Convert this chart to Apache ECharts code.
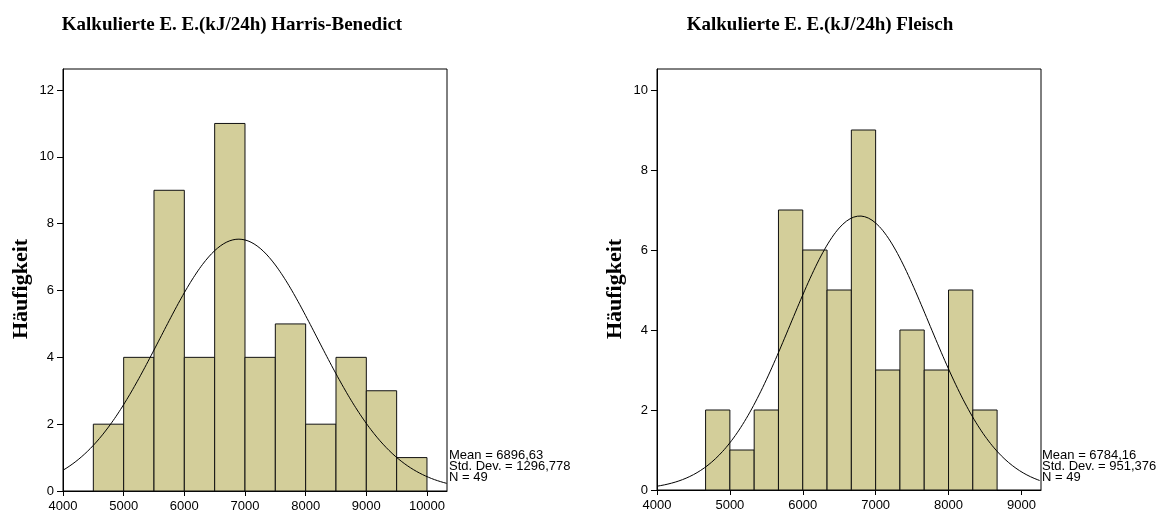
<!DOCTYPE html>
<html>
<head>
<meta charset="utf-8">
<script src="https://cdn.jsdelivr.net/npm/echarts@6/dist/echarts.min.js"></script>
<style>
html,body{margin:0;padding:0;background:#fff;}
#chart{width:1163px;height:516px;}
</style>
</head>
<body>
<div id="chart"></div>
<script>
// ---- Data ----
const titles = ['Kalkulierte E. E.(kJ/24h) Harris-Benedict', 'Kalkulierte E. E.(kJ/24h) Fleisch'];
const yAxisName = 'Häufigkeit';

// Left: Harris-Benedict
const hbBinStarts = [4500, 5000, 5500, 6000, 6500, 7000, 7500, 8000, 8500, 9000, 9500];
const hbBinWidth = 500;
const hbCounts = [2, 4, 9, 4, 11, 4, 5, 2, 4, 3, 1];
const hbMean = 6896.63;
const hbSD = 1296.778;
const hbN = 49;
const hbXTicks = [4000, 5000, 6000, 7000, 8000, 9000, 10000];
const hbYTicks = [0, 2, 4, 6, 8, 10, 12];

// Right: Fleisch
const flBinStarts = [4666.67, 5000, 5333.33, 5666.67, 6000, 6333.33, 6666.67, 7000, 7333.33, 7666.67, 8000, 8333.33];
const flBinWidth = 333.33;
const flCounts = [2, 1, 2, 7, 6, 5, 9, 3, 4, 3, 5, 2];
const flMean = 6784.16;
const flSD = 951.376;
const flN = 49;
const flXTicks = [4000, 5000, 6000, 7000, 8000, 9000];
const flYTicks = [0, 2, 4, 6, 8, 10];

// ---- Helpers ----
function binData(starts, width, counts) {
  return starts.map((s, i) => [s, s + width, counts[i]]);
}
// Fitted normal curve (as drawn by the stats package): N * binWidth * pdf(x)
function normalCurve(mean, sd, n, width, x0, x1, step) {
  const pts = [];
  const k = n * width / (sd * Math.sqrt(2 * Math.PI));
  for (let x = x0; x <= x1 + 1e-9; x += step) {
    const z = (x - mean) / sd;
    pts.push([x, k * Math.exp(-0.5 * z * z)]);
  }
  return pts;
}
function fmt(v, d) { return v.toFixed(d).replace('.', ','); }

const serif = "'Liberation Serif', 'Times New Roman', serif";
const sans = "'Liberation Sans', Arial, sans-serif";
const barColor = '#d3ce9a';

function renderBar(params, api) {
  const p0 = api.coord([api.value(0), api.value(2)]);
  const p1 = api.coord([api.value(1), 0]);
  return {
    type: 'rect',
    shape: { x: p0[0], y: p0[1], width: p1[0] - p0[0], height: p1[1] - p0[1] },
    style: { fill: barColor, stroke: '#111', lineWidth: 1 }
  };
}

function xAxis(gridIndex, min, max, ticks) {
  return {
    type: 'value', gridIndex, min, max, interval: 1000,
    axisLine: { show: true, onZero: false, lineStyle: { color: '#000', width: 1 } },
    axisTick: { show: true, length: 5, lineStyle: { color: '#000' }, customValues: ticks },
    axisLabel: { color: '#000', fontFamily: sans, fontSize: 13, margin: 9,
      customValues: ticks, formatter: v => String(v) },
    splitLine: { show: false }
  };
}
function yAxis(gridIndex, max, ticks) {
  return {
    type: 'value', gridIndex, min: 0, max, interval: 2,
    axisLine: { show: true, onZero: false, lineStyle: { color: '#000', width: 1 } },
    axisTick: { show: true, length: 6, lineStyle: { color: '#000' }, customValues: ticks },
    axisLabel: { color: '#000', fontFamily: sans, fontSize: 13, margin: 9,
      customValues: ticks, formatter: v => String(v) },
    splitLine: { show: false }
  };
}

const hbXMax = 10330, flXMax = 9269;
const titleStyle = { fontFamily: serif, fontWeight: 'bold', fontSize: 19, color: '#000' };
const nameStyle = { text: yAxisName, fontFamily: serif, fontWeight: 'bold', fontSize: 22,
  fill: '#000', textAlign: 'center', textVerticalAlign: 'middle' };
const statStyle = { fontFamily: sans, fontSize: 13, lineHeight: 11, fill: '#000' };

const option = {
  animation: false,
  backgroundColor: '#fff',
  title: [
    { text: titles[0], left: 227, top: 11, textAlign: 'center', textStyle: titleStyle },
    { text: titles[1], left: 815, top: 11, textAlign: 'center', textStyle: titleStyle }
  ],
  grid: [
    { left: 63, top: 69, width: 384, height: 422, show: true, borderColor: '#000', borderWidth: 1, backgroundColor: '#fff' },
    { left: 657, top: 69, width: 384, height: 421, show: true, borderColor: '#000', borderWidth: 1, backgroundColor: '#fff' }
  ],
  xAxis: [ xAxis(0, 4000, hbXMax, hbXTicks), xAxis(1, 4000, flXMax, flXTicks) ],
  yAxis: [ yAxis(0, 12.63, hbYTicks), yAxis(1, 10.525, flYTicks) ],
  series: [
    { type: 'custom', xAxisIndex: 0, yAxisIndex: 0, renderItem: renderBar,
      encode: { x: [0, 1], y: 2 }, data: binData(hbBinStarts, hbBinWidth, hbCounts), z: 2 },
    { type: 'line', xAxisIndex: 0, yAxisIndex: 0, showSymbol: false, symbol: 'none', clip: true, z: 3,
      lineStyle: { color: '#000', width: 1 },
      data: normalCurve(hbMean, hbSD, hbN, hbBinWidth, 4000, hbXMax, 25) },
    { type: 'custom', xAxisIndex: 1, yAxisIndex: 1, renderItem: renderBar,
      encode: { x: [0, 1], y: 2 }, data: binData(flBinStarts, flBinWidth, flCounts), z: 2 },
    { type: 'line', xAxisIndex: 1, yAxisIndex: 1, showSymbol: false, symbol: 'none', clip: true, z: 3,
      lineStyle: { color: '#000', width: 1 },
      data: normalCurve(flMean, flSD, flN, flBinWidth, 4000, flXMax, 25) }
  ],
  graphic: [
    { type: 'text', x: 21, y: 289, rotation: Math.PI / 2, z: 10, style: nameStyle },
    { type: 'text', x: 615, y: 289, rotation: Math.PI / 2, z: 10, style: nameStyle },
    { type: 'text', left: 449, top: 449, z: 10,
      style: Object.assign({ text: 'Mean = ' + fmt(hbMean, 2) + '\nStd. Dev. = ' + fmt(hbSD, 3) + '\nN = ' + hbN }, statStyle) },
    { type: 'text', left: 1042, top: 449, z: 10,
      style: Object.assign({ text: 'Mean = ' + fmt(flMean, 2) + '\nStd. Dev. = ' + fmt(flSD, 3) + '\nN = ' + flN }, statStyle) }
  ]
};

const chart = echarts.init(document.getElementById('chart'), null, { renderer: 'canvas' });
chart.setOption(option);
</script>
</body>
</html>
